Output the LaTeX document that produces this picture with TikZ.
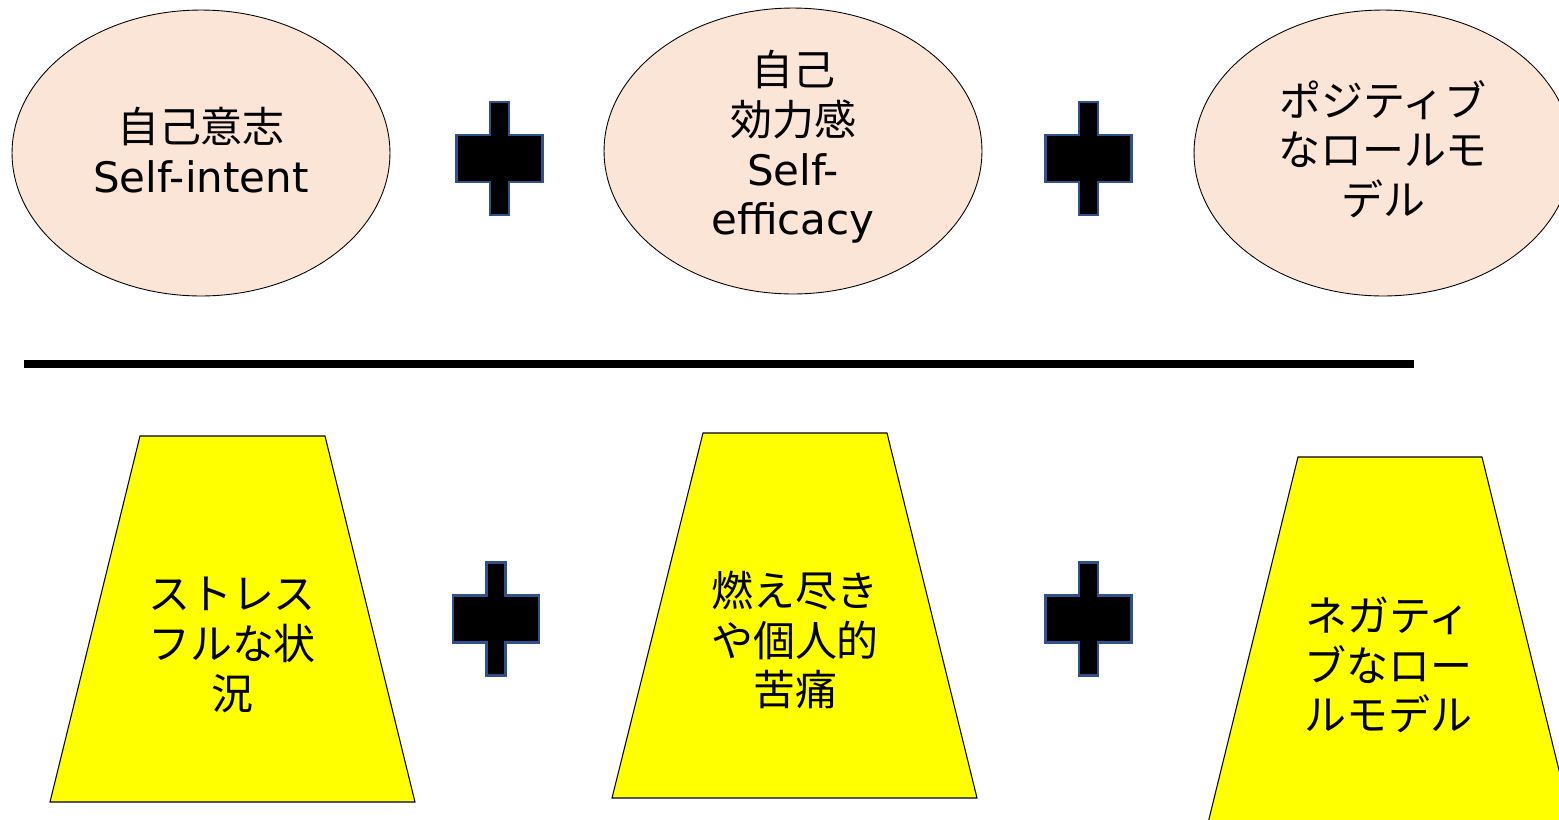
\documentclass[tikz,border=0pt]{standalone}
\usepackage{fontspec}
\setmainfont{DejaVu Sans}
\newfontfamily\jp{Noto Sans CJK JP}
\usetikzlibrary{shapes.geometric}
\definecolor{peach}{HTML}{FBE5D6}
\definecolor{plusblue}{HTML}{2F528F}
\definecolor{trapyellow}{HTML}{FFFF00}
\tikzset{
  oval/.style={ellipse, draw=black, line width=0.5pt, fill=peach, minimum width=7.56cm, minimum height=5.72cm, inner sep=0pt},
  lbl/.style={align=center, inner sep=0pt, font=\fontsize{23.9}{28.3}\selectfont},
  trap/.style={draw=black, line width=0.6pt, fill=trapyellow},
  plussign/.style={fill=black, draw=plusblue, line width=1.2pt},
}
\newcommand{\plusat}[2]{%
  \draw[plussign] (#1-9.5,#2-56.5) -- (#1+9.5,#2-56.5) -- (#1+9.5,#2-23.5) -- (#1+43,#2-23.5) -- (#1+43,#2+23.5) -- (#1+9.5,#2+23.5) -- (#1+9.5,#2+56.5) -- (#1-9.5,#2+56.5) -- (#1-9.5,#2+23.5) -- (#1-43,#2+23.5) -- (#1-43,#2-23.5) -- (#1-9.5,#2-23.5) -- cycle;}
\begin{document}
\begin{tikzpicture}[x=0.02cm,y=-0.02cm]
\useasboundingbox (0,0) rectangle (1559,819);
\begin{scope}
\clip (0,0) rectangle (1559,819);
% ellipses
\node[oval] (e1) at (201,153) {};
\node[oval] (e2) at (793,151) {};
\node[oval] (e3) at (1383,153) {};
\node[lbl] (t1) at (201,150) {{\jp 自己意志}\\Self-intent};
\node[lbl] (t2) at (793,147) {{\jp 自己}\\{\jp 効力感}\\Self-\\efficacy};
\node[lbl] (t3) at (1383,149) {{\jp ポジティブ}\\{\jp なロールモ}\\{\jp デル}};
% plus signs
\plusat{499.5}{158.5}
\plusat{1088.5}{158.5}
\plusat{496}{619}
\plusat{1088.5}{619}
% separator
\draw[line width=4.6pt] (24,364) -- (1414,364);
% trapezoids
\draw[trap] (140,436) -- (325,436) -- (415,802) -- (50,802) -- cycle;
\draw[trap] (703,433) -- (887,433) -- (977,798) -- (612,798) -- cycle;
\draw[trap] (1298,457) -- (1482,457) -- (1572,823) -- (1208,823) -- cycle;
\node[lbl] (b1) at (232,645) {{\jp ストレス}\\{\jp フルな状}\\{\jp 況}};
\node[lbl] (b2) at (795,640) {{\jp 燃え尽き}\\{\jp や個人的}\\{\jp 苦痛}};
\node[lbl] (b3) at (1388,665) {{\jp ネガティ}\\{\jp ブなロー}\\{\jp ルモデル}};
\end{scope}
\end{tikzpicture}
\end{document}
